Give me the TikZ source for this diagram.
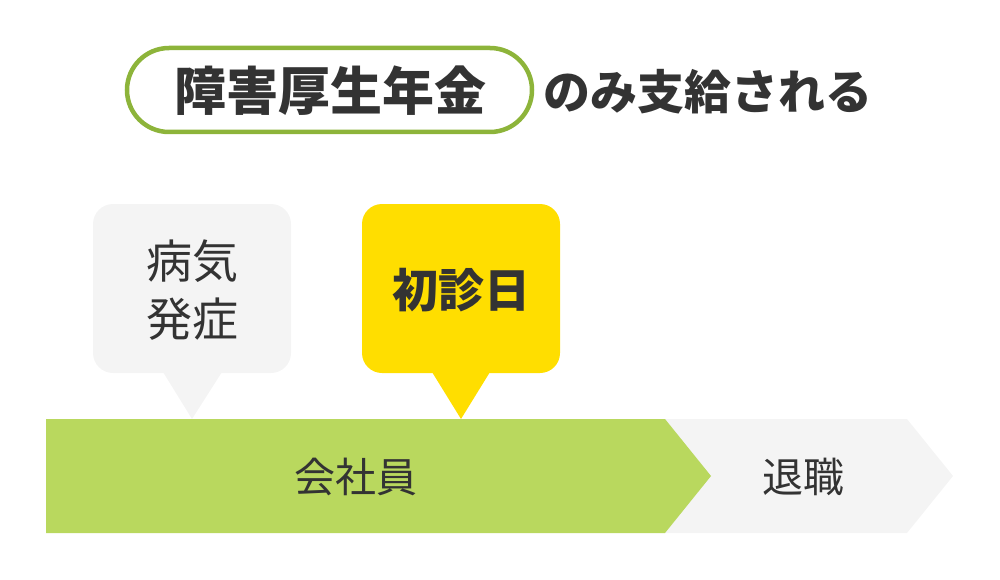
\documentclass[tikz,border=0pt]{standalone}
\usepackage{fontspec}
\setmainfont{Noto Sans CJK JP}
\usepackage{xcolor}
\usetikzlibrary{positioning}
\definecolor{txtgray}{HTML}{333333}
\definecolor{pillgreen}{HTML}{8DB43A}
\definecolor{bargreen}{HTML}{B9D85E}
\definecolor{boxgray}{HTML}{F4F4F4}
\definecolor{boxyellow}{HTML}{FFDE00}
\tikzset{
    label text/.style={text=txtgray, inner sep=0pt, align=center},
    balloon/.style={rounded corners=20pt}
}

\begin{document}
\begin{tikzpicture}[x=1pt, y=-1pt]
    \useasboundingbox (0, 0) rectangle (1000, 580);
    % title
    \draw[pillgreen, line width=4.5pt, rounded corners=42pt, fill=white]
        (127, 48) rectangle (532, 132);
    \node[label text, font=\fontsize{52}{60}\selectfont\bfseries] (title) at (330, 91) {障害厚生年金};
    \node[label text, font=\fontsize{47}{56}\selectfont\bfseries] (only) at (708, 92) {のみ支給される};
    % time bar
    \fill[boxgray] (660, 419) -- (907, 419) -- (953, 476) -- (907, 533) -- (660, 533) -- cycle;
    \fill[bargreen] (46, 419) -- (665, 419) -- (711, 476) -- (665, 533) -- (46, 533) -- cycle;
    \node[label text, font=\fontsize{41}{48}\selectfont] (employee) at (356, 477) {会社員};
    \node[label text, font=\fontsize{41}{48}\selectfont] (retire) at (803, 477) {退職};
    % balloons
    \fill[boxgray, balloon] (93, 204) rectangle (291, 373);
    \fill[boxgray] (163, 372) -- (222, 372) -- (192, 419) -- cycle;
    \node[label text, font=\fontsize{46}{58}\selectfont] (onset) at (192, 290) {病気\\発症};
    \fill[boxyellow, balloon] (362, 204) rectangle (560, 373);
    \fill[boxyellow] (432, 372) -- (490, 372) -- (461, 419) -- cycle;
    \node[label text, font=\fontsize{46}{54}\selectfont\bfseries] (firstvisit) at (461, 290) {初診日};
\end{tikzpicture}
\end{document}
